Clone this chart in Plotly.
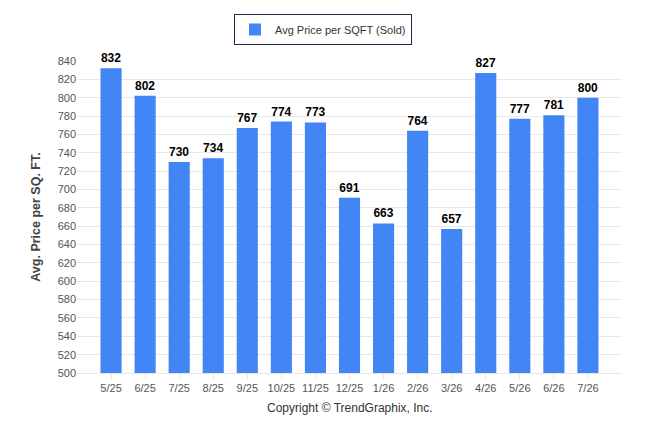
import plotly.graph_objects as go

months = ["5/25", "6/25", "7/25", "8/25", "9/25", "10/25", "11/25", "12/25",
          "1/26", "2/26", "3/26", "4/26", "5/26", "6/26", "7/26"]
avg_price = [832, 802, 730, 734, 767, 774, 773, 691, 663, 764, 657, 827, 777, 781, 800]
y_ticks = list(range(500, 841, 20))

fig = go.Figure()
fig.add_trace(go.Bar(x = months, y = avg_price, name = "Avg Price per SQFT (Sold)",
                     marker = {"color": "#4285F4", "line": {"width": 0}},
                     width = 0.62,
                     text = avg_price, textposition = "outside", cliponaxis = False,
                     textfont = {"family": "Arial", "size": 12, "color": "#000000"},
                     texttemplate = "<b>%{text}</b>"))

# page body adds 8px offset, so margins are shifted to compensate
fig.update_layout(
    width = 646, height = 434,
    margin = {"l": 69, "r": 32, "t": 53, "b": 69, "autoexpand": False},
    paper_bgcolor = "white", plot_bgcolor = "white",
    font = {"family": "Arial", "size": 11, "color": "#555555"},
    showlegend = True,
    legend = {"orientation": "h", "xref": "container", "x": 315 / 646, "xanchor": "center",
              "yref": "container", "y": 1 - 6 / 434, "yanchor": "top",
              "bordercolor": "#1f2d4d", "borderwidth": 1, "bgcolor": "white",
              "font": {"size": 11, "color": "#333333"}},
    annotations = [{"text": "Copyright © TrendGraphix, Inc.", "x": 0.5, "xref": "paper",
                    "y": -35 / 312, "yref": "paper", "yanchor": "middle", "showarrow": False,
                    "font": {"size": 12, "color": "#333333"}}],
)

fig.update_xaxes(type = "category", range = [-1, 15], showgrid = False, automargin = False,
                 showline = True, linecolor = "#e6e6e6", linewidth = 1,
                 ticks = "outside", tickcolor = "#e6e6e6", ticklen = 5,
                 tickfont = {"size": 11, "color": "#555555"})
fig.update_yaxes(range = [500, 840], tickvals = y_ticks, showgrid = True, gridcolor = "#e8e8e8",
                 zeroline = False, showline = False, automargin = False,
                 tickfont = {"size": 11, "color": "#555555"},
                 title = {"text": "<b>Avg. Price per SQ. FT.</b>", "standoff": 14,
                          "font": {"size": 12.5, "color": "#444444"}})

fig.write_html("out.html")
